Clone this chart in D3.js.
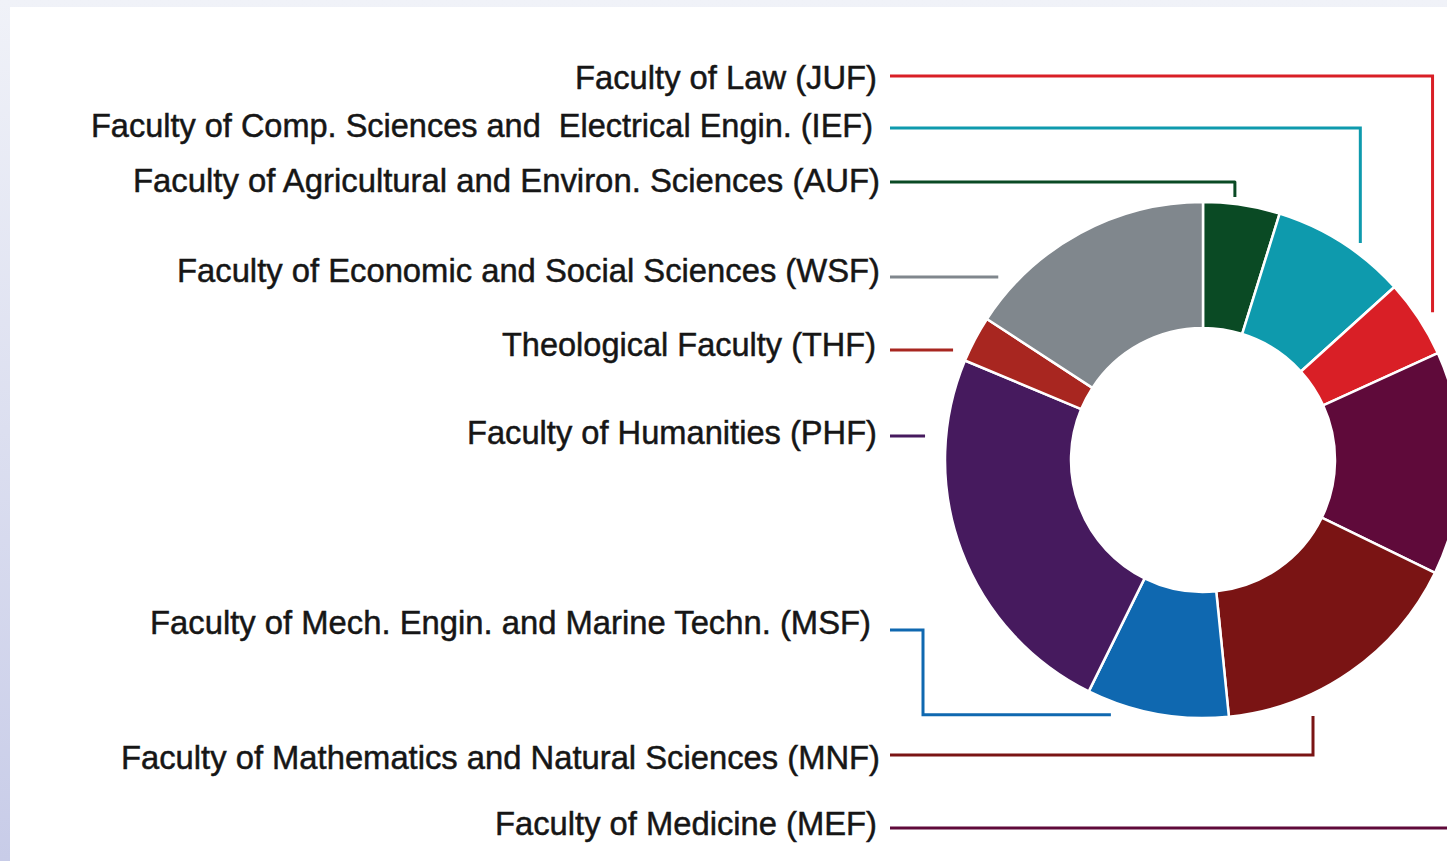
<!DOCTYPE html>
<html>
<head>
<meta charset="utf-8">
<script src="https://d3js.org/d3.v7.min.js"></script>
<style>
  body { margin: 0; overflow: hidden; }
</style>
</head>
<body>
<script>
'use strict';

// faculties, in pie order (clockwise from 12 o'clock)
const codes = ["AUF", "IEF", "JUF", "MEF", "MNF", "MSF", "PHF", "THF", "WSF"]
const names = [
    "Faculty of Agricultural and Environ. Sciences (AUF)",
    "Faculty of Comp. Sciences and\u00a0 Electrical Engin. (IEF)",
    "Faculty of Law (JUF)",
    "Faculty of Medicine (MEF)",
    "Faculty of Mathematics and Natural Sciences (MNF)",
    "Faculty of Mech. Engin. and Marine Techn. (MSF)",
    "Faculty of Humanities (PHF)",
    "Theological Faculty (THF)",
    "Faculty of Economic and Social Sciences (WSF)"
]
// share in percent
const shares = [4.8, 8.5, 4.9, 14.0, 16.2, 8.9, 24.0, 2.9, 15.8]
const colors = ["#0a4a24", "#0e9aad", "#d91f26", "#5f0a3a", "#7a1414", "#0f68b0", "#461a5e", "#a82620", "#80878d"]

// label / leader layout (annotation only)
// y = leader line, ty = middle of the caps of the label
const leaders = {
    JUF: { y: 76,  ty: 77,  textR: 877, textW: 302, kind: "elbow", t: 0.53, r: 273 },
    IEF: { y: 128, ty: 125, textR: 873, textW: 782, kind: "elbow", t: 0.61, r: 268 },
    AUF: { y: 182, ty: 180, textR: 880, textW: 747, kind: "elbow", t: 0.40, r: 265 },
    WSF: { y: 277, ty: 270, textR: 880, textW: 703, kind: "straight", t: 0.15, r: 274 },
    THF: { y: 350, ty: 344, textR: 876, textW: 374, kind: "straight", t: 0.10, r: 273 },
    PHF: { y: 436, ty: 432, textR: 877, textW: 410, kind: "straight", t: 0.795, r: 279 },
    MSF: { y: 630, ty: 622, textR: 871, textW: 721, kind: "hook", t: 0.80, r: 271, hookX: 923 },
    MNF: { y: 755, ty: 757, textR: 880, textW: 759, kind: "elbow", t: 0.70, r: 278.6 },
    MEF: { y: 828, ty: 823, textR: 877, textW: 382, kind: "elbow", t: 0.50, r: 300 }
}

const W = 1447, H = 861
const cx = 1203, cy = 460
const outerR = 258, innerR = 132
const lineStart = 890

const svg = d3.select("body").append("svg")
    .attr("width", W)
    .attr("height", H)

// frame background
const grad = svg.append("defs").append("linearGradient")
    .attr("id", "bg").attr("x1", 0).attr("y1", 0).attr("x2", 0).attr("y2", 1)
grad.append("stop").attr("offset", "0%").attr("stop-color", "#f0f2f8")
grad.append("stop").attr("offset", "100%").attr("stop-color", "#c8cce8")
svg.append("rect").attr("width", W).attr("height", H).attr("fill", "url(#bg)")
svg.append("rect").attr("x", 10).attr("y", 7).attr("width", W).attr("height", H).attr("fill", "#fff")

const data = codes.map((c, i) => ({ code: c, name: names[i], value: shares[i], color: colors[i] }))

const pie = d3.pie().sort(null).value(d => d.value)
const arcs = pie(data)
const arc = d3.arc().innerRadius(innerR).outerRadius(outerR)

const ring = svg.append("g").attr("transform", "translate(" + cx + "," + cy + ")")
ring.selectAll("path")
    .data(arcs)
    .enter()
    .append("path")
    .attr("d", arc)
    .attr("fill", d => d.data.color)
    .attr("stroke", "#fff")
    .attr("stroke-width", 2.5)
    .attr("stroke-linejoin", "round")

function polar(a, r) {
    return [cx + r * Math.sin(a), cy - r * Math.cos(a)]
}

// leader lines
arcs.forEach(function(d) {
    const L = leaders[d.data.code]
    const a = d.startAngle + L.t * (d.endAngle - d.startAngle)
    const p = polar(a, L.r)
    const path = d3.path()
    path.moveTo(lineStart, L.y)
    if (L.kind === "straight") {
        path.lineTo(p[0], L.y)
    } else if (L.kind === "hook") {
        path.lineTo(L.hookX, L.y)
        path.lineTo(L.hookX, p[1])
        path.lineTo(p[0], p[1])
    } else {
        path.lineTo(p[0], L.y)
        path.lineTo(p[0], p[1])
    }
    svg.append("path")
        .attr("d", path.toString())
        .attr("fill", "none")
        .attr("stroke", d.data.color)
        .attr("stroke-width", 3)
        .attr("stroke-linejoin", d.data.code === "AUF" ? "round" : "miter")
})

// labels
svg.append("g").selectAll("text")
    .data(data)
    .enter()
    .append("text")
    .attr("x", d => leaders[d.code].textR)
    .attr("y", d => leaders[d.code].ty + 12)
    .attr("text-anchor", "end")
    .attr("textLength", d => leaders[d.code].textW)
    .attr("lengthAdjust", "spacingAndGlyphs")
    .style("font-family", "'Liberation Sans Narrow', 'Liberation Sans', Arial, sans-serif")
    .style("font-size", "34px")
    .style("fill", "#161616")
    .style("stroke", "#161616")
    .style("stroke-width", 0.5)
    .text(d => d.name)
</script>
</body>
</html>
